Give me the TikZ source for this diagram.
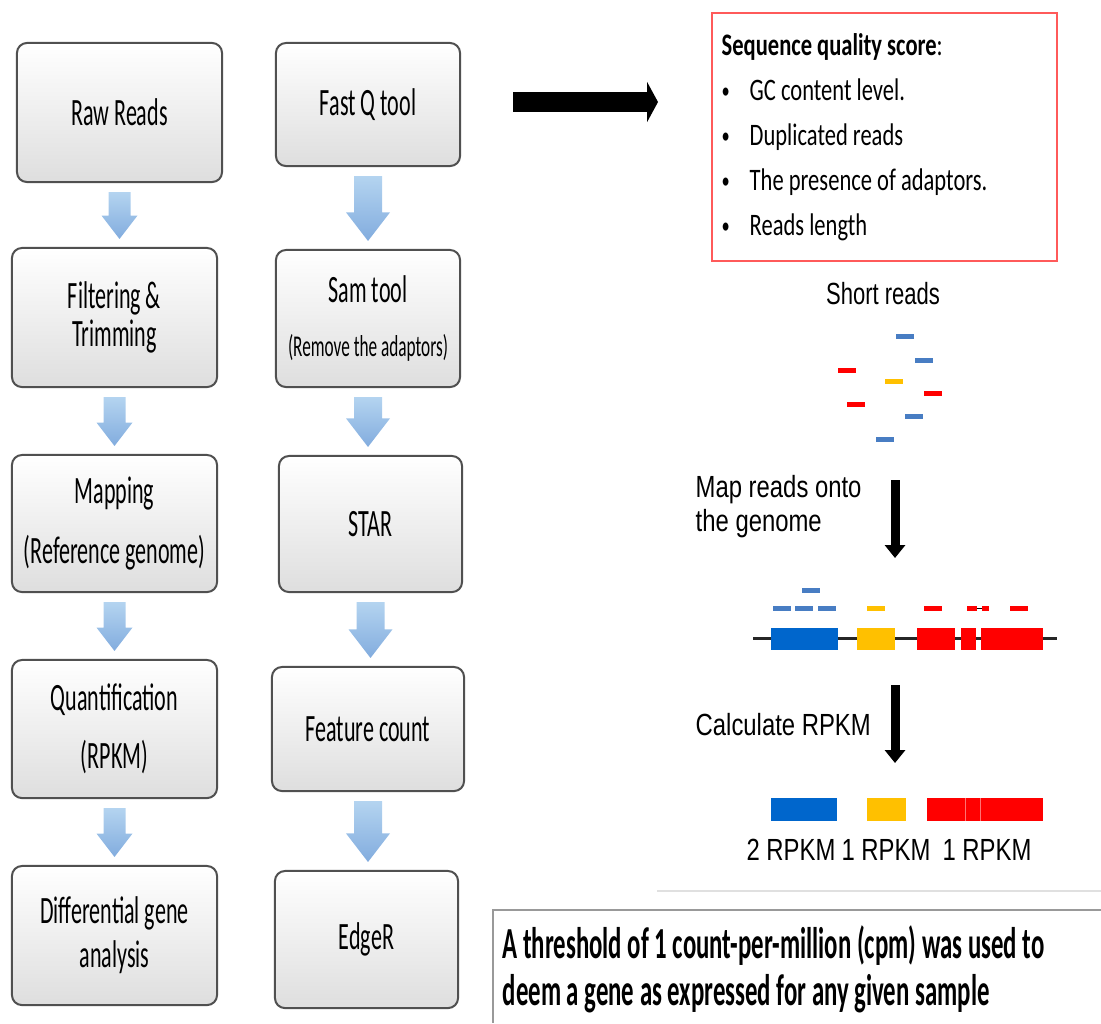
\documentclass[tikz,border=0pt]{standalone}
\usepackage{fontspec}
\setmainfont{Carlito}
\newfontfamily\boxfont[FakeStretch=0.57]{Carlito}
\newfontfamily\notefont[FakeStretch=0.72]{Carlito}
\newfontfamily\threshfont[FakeStretch=0.56]{Carlito}
\newfontfamily\figfont[FakeStretch=0.78]{Liberation Sans}
\newfontfamily\readsfont[FakeStretch=0.72]{Liberation Sans}
\definecolor{BoxLine}{RGB}{80,80,80}
\definecolor{BoxShade}{RGB}{222,222,222}
\definecolor{FlowTop}{RGB}{180,212,240}
\definecolor{FlowBot}{RGB}{130,172,222}
\definecolor{QualRed}{RGB}{255,90,90}
\definecolor{ReadBlue}{RGB}{72,125,195}
\definecolor{ExonBlue}{RGB}{0,102,204}
\definecolor{ExonYellow}{RGB}{255,192,0}
\definecolor{ExonRed}{RGB}{255,0,0}
\usepackage{tikz}
\usetikzlibrary{arrows.meta, calc, positioning}

% shaded block arrow from one box down to the next
\newcommand{\flowarrow}[4]{%
	\shade[top color=FlowTop, bottom color=FlowBot]
		($(#1.south)+(-#3,9)$) -- ($(#1.south)+(#3,9)$)
		-- ($(#1.south |- #2.north)+(#3,{-8-1.3*#4})$)
		-- ($(#1.south |- #2.north)+(#4,{-8-1.3*#4})$)
		-- ($(#1.south |- #2.north)+(0,-8)$)
		-- ($(#1.south |- #2.north)+(-#4,{-8-1.3*#4})$)
		-- ($(#1.south |- #2.north)+(-#3,{-8-1.3*#4})$) -- cycle;}

\begin{document}
\begin{tikzpicture}[x=0.01cm, y=-0.01cm,
				stepbox/.style={draw=BoxLine, line width=0.02cm, rounded corners=0.1cm, top color=white, middle color=white, bottom color=BoxShade, align=center, inner sep=0pt, font=\boxfont\fontsize{11pt}{11pt}\selectfont},
				qualbox/.style={draw=QualRed, line width=0.015cm, inner sep=0pt},
				qualtext/.style={anchor=base west, inner sep=0pt, font=\notefont\fontsize{8.9pt}{10pt}\selectfont},
				figlabel/.style={inner sep=0pt, font=\figfont\fontsize{8.7pt}{9.7pt}\selectfont},
				read/.style={line width=0.05cm},
				fatarrow/.style={line width=0.2cm, -{Triangle[length=0.11cm, width=0.4cm]}},
				thinarrow/.style={line width=0.09cm, -{Triangle[length=0.13cm, width=0.2cm]}},
				threshtext/.style={anchor=base west, inner sep=0pt, font=\threshfont\bfseries\fontsize{12.6pt}{13pt}\selectfont}]
			\useasboundingbox (0,0) rectangle (1101,1023);

			% left pipeline
			\node[stepbox, minimum width=2.05cm, minimum height=1.39cm] (raw) at (119.5,112.5) {Raw Reads};
			\node[stepbox, minimum width=2.05cm, minimum height=1.39cm] (filter) at (114.5,317.5) {Filtering \&\\Trimming};
			\node[stepbox, minimum width=2.05cm, minimum height=1.37cm] (mapping) at (114.5,523.5) {Mapping\\[5.8pt](Reference genome)};
			\node[stepbox, minimum width=2.05cm, minimum height=1.38cm] (quant) at (114.5,729) {Quantification\\[5.5pt](RPKM)};
			\node[stepbox, minimum width=2.05cm, minimum height=1.39cm] (diff) at (114.5,935.5) {Differential gene\\[1.5pt]analysis};

			% right pipeline
			\node[stepbox, minimum width=1.84cm, minimum height=1.23cm] (fastq) at (368,104.5) {Fast Q tool};
			\node[stepbox, minimum width=1.84cm, minimum height=1.37cm] (samtool) at (368,318.5) {Sam tool\\[4.6pt]{\fontsize{8.6pt}{11pt}\selectfont(Remove the adaptors)}};
			\node[stepbox, minimum width=1.83cm, minimum height=1.36cm] (star) at (370.5,524) {STAR};
			\node[stepbox, minimum width=1.92cm, minimum height=1.24cm] (featcount) at (368,729) {Feature count};
			\node[stepbox, minimum width=1.83cm, minimum height=1.37cm] (edger) at (366.5,939.5) {EdgeR};

			\flowarrow{raw}{filter}{11}{18}
			\flowarrow{filter}{mapping}{11}{18}
			\flowarrow{mapping}{quant}{11}{18}
			\flowarrow{quant}{diff}{11}{18}
			\flowarrow{fastq}{samtool}{14}{22}
			\flowarrow{samtool}{star}{14}{22}
			\flowarrow{star}{featcount}{14}{22}
			\flowarrow{featcount}{edger}{14}{22}

			% quality score box
			\node[qualbox, minimum width=3.45cm, minimum height=2.48cm] (quality) at (884.5,137) {};
			\coordinate (qstart) at (513,102);
			\coordinate (qend) at (658,102);
			\draw[fatarrow] (qstart) -- (qend);
			\node[qualtext] (qhead) at (721,55) {\textbf{Sequence quality score}:};
			\foreach \qline [count=\i] in {GC content level., Duplicated reads, The presence of adaptors., Reads length}{
				\node[qualtext] (qdot\i) at (721,{53+45*\i}) {\fontsize{6.5pt}{7pt}\selectfont\textbullet};
				\node[qualtext] (qitem\i) at (749,{55+45*\i}) {\qline};
			}

			% short reads
			\node[inner sep=0pt, font=\readsfont\fontsize{8.7pt}{10pt}\selectfont] (shortreads) at (883,294) {Short reads};
			\foreach \x/\y/\c in {905/336/ReadBlue, 924/360/ReadBlue, 847/370/ExonRed, 894/381/ExonYellow,
				933/393/ExonRed, 856/404/ExonRed, 914/416/ReadBlue, 885/439/ReadBlue}
				\draw[read, \c] (\x-9,\y) -- (\x+9,\y);

			% mapping onto the genome
			\node[figlabel, align=left, anchor=west] (maplabel) at (695,507) {Map reads onto\\the genome};
			\coordinate (mapfrom) at (895,480);
			\coordinate (mapto) at (895,558);
			\draw[thinarrow] (mapfrom) -- (mapto);
			\foreach \x/\y/\c in {782/608/ReadBlue, 804/608/ReadBlue, 827/608/ReadBlue, 811/590/ReadBlue,
				876/608/ExonYellow, 933/608/ExonRed, 1019/608/ExonRed}
				\draw[read, \c] (\x-9,\y) -- (\x+9,\y);
			\draw[line width=0.01cm, black] (976,608) -- (983,608);
			\draw[read, ExonRed] (967,608) -- (977,608);
			\draw[read, ExonRed] (982,608) -- (989,608);
			\draw[line width=0.03cm, black!85] (753,638) -- (1057,638);
			\fill[ExonBlue] (771,628) rectangle (838,650);
			\fill[ExonYellow] (857,628) rectangle (895,650);
			\fill[ExonRed] (917,628) rectangle (955,650);
			\fill[ExonRed] (961,628) rectangle (976,650);
			\fill[ExonRed] (981,628) rectangle (1043,650);

			% expression values
			\node[figlabel, anchor=west] (calclabel) at (695,725) {Calculate RPKM};
			\coordinate (calcfrom) at (895,685);
			\coordinate (calcto) at (895,763);
			\draw[thinarrow] (calcfrom) -- (calcto);
			\fill[ExonBlue] (771,798) rectangle (837,821);
			\fill[ExonYellow] (867,798) rectangle (906,821);
			\fill[ExonRed] (927,798) rectangle (1043,821);
			\draw[line width=0.006cm, ExonRed!55!white] (965,798) -- (965,821) (980,798) -- (980,821);
			\node[figlabel] (rpkmblue) at (791,850) {2 RPKM};
			\node[figlabel] (rpkmyellow) at (886,850) {1 RPKM};
			\node[figlabel] (rpkmred) at (987,850) {1 RPKM};
			\draw[line width=0.015cm, black!12] (657,891) -- (1101,891);

			% threshold note
			\draw[line width=0.015cm, black!40] (1101,910) -- (493,910) -- (493,1023);
			\node[threshtext] (thresh1) at (502,958) {A threshold of 1 count-per-million (cpm) was used to};
			\node[threshtext] (thresh2) at (502,1005) {deem a gene as expressed for any given sample};
		\end{tikzpicture}
\end{document}
